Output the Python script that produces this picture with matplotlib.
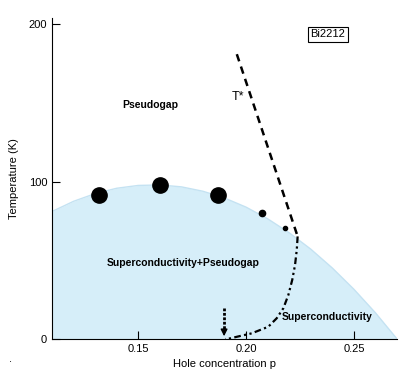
import matplotlib
matplotlib.use('Agg')
import matplotlib.pyplot as plt

# ─── Data ────────────────────────────────────────────────────────────────────
dome_p = [0.11, 0.12, 0.13, 0.14, 0.15, 0.16, 0.17, 0.18, 0.19, 0.20,
          0.21, 0.22, 0.23, 0.24, 0.25, 0.26, 0.27]
dome_t = [81.0, 87.5, 92.4, 95.8, 97.6, 97.9, 96.7, 93.9, 89.6, 83.8,
          76.4, 67.5, 57.1, 45.1, 31.6, 16.6, 0.0]

big_p = [0.132, 0.160, 0.187]
big_t = [91.7, 97.6, 91.7]
mid_p = [0.2073]
mid_t = [79.8]
small_p = [0.2181]
small_t = [70.7]

tstar_p = [0.1957, 0.2239]
tstar_t = [181.0, 65.2]

sc_p = [0.2239, 0.2235, 0.2227, 0.2214, 0.2196, 0.2173, 0.2142, 0.2103,
        0.2026, 0.1972, 0.1926, 0.1903]
sc_t = [65.2, 56.7, 47.1, 37.6, 28.0, 19.6, 13.2, 7.8, 3.6, 1.9, 0.4, 0.0]

qcp_p = 0.1898
qcp_top = 19.5

plt.rcParams.update({
    "font.family": ["Liberation Sans", "DejaVu Sans"],
    "font.size": 8,
})

fig = plt.figure(figsize=(4.06, 3.79), dpi=100)
ax = fig.add_axes([0.128, 0.1055, 0.85, 0.847])

ax.fill_between(dome_p, dome_t, 0, color="#d6eef9", lw=0, zorder=1)
ax.plot(dome_p, dome_t, color="#c4e2f2", lw=1, zorder=1)

ax.plot(tstar_p, tstar_t, color="black", lw=1.8, ls=(0, (3, 2.2)), zorder=3)
ax.plot(sc_p, sc_t, color="black", lw=1.6,
        ls=(0, (3, 1.5, 1, 1.5, 1, 1.5)), zorder=3)

ax.plot(big_p, big_t, "o", color="black", ms=11, zorder=4)
ax.plot(mid_p, mid_t, "o", color="black", ms=4.5, zorder=4)
ax.plot(small_p, small_t, "o", color="black", ms=3, zorder=4)

# dotted arrow marking the critical doping
ax.plot([qcp_p, qcp_p], [qcp_top, 6], color="black", lw=2, ls=(0, (1, 0.6)), zorder=4)
ax.annotate("", xy=(qcp_p, 0), xytext=(qcp_p, 7),
            arrowprops=dict(arrowstyle="-|>,head_width=0.25,head_length=0.5",
                            color="black", lw=1), zorder=5)

ax.text(0.1556, 149, "Pseudogap", ha="center", va="center", fontweight="bold", fontsize=7.5)
ax.text(0.1708, 48.4, "Superconductivity+Pseudogap", ha="center", va="center",
        fontweight="bold", fontsize=7.5)
ax.text(0.2375, 14.2, "Superconductivity", ha="center", va="center",
        fontweight="bold", fontsize=7.5)
ax.text(0.1963, 154, "T*", ha="center", va="center", fontsize=9)
ax.text(0.238, 193.6, "Bi2212", ha="center", va="center", fontsize=8,
        bbox=dict(boxstyle="square,pad=0.2", fc="white", ec="black", lw=0.8))

ax.set_xlim(0.11, 0.27)
ax.set_ylim(0, 204)
ax.set_xticks([0.15, 0.20, 0.25])
ax.set_xticklabels(["0.15", "0.20", "0.25"])
ax.set_yticks([0, 100, 200])
ax.tick_params(direction="in", length=6, width=0.8, labelsize=8)
ax.spines["top"].set_visible(False)
ax.spines["right"].set_visible(False)
ax.set_xlabel("Hole concentration p", fontsize=8, labelpad=4)
ax.set_ylabel("Temperature (K)", fontsize=8, labelpad=7)

fig.text(0.022, 0.045, ".", fontsize=8)

fig.savefig("out.png", dpi=100)
